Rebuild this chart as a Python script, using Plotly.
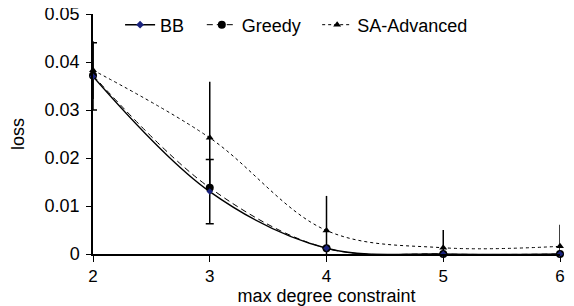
import plotly.graph_objects as go

x_vals = [2, 3, 4, 5, 6]
bb = [0.0370, 0.0130, 0.0012, 0.0, 0.0]
bb_err = [0.0070, 0.0067, 0.0, 0.0, 0.0]
greedy = [0.0372, 0.0138, 0.0012, 0.0, 0.0]
sa = [0.0383, 0.0242, 0.0049, 0.0013, 0.0016]
sa_err = [0.0060, 0.0117, 0.0072, 0.0037, 0.0045]

font = dict(family="Liberation Sans, Arial, sans-serif", size=18, color="black")
tick_font = dict(family="Liberation Sans, Arial, sans-serif", size=17, color="black")

fig = go.Figure()
fig.add_trace(go.Scatter(
    x=x_vals, y=sa, name="SA-Advanced", mode="lines+markers",
    line=dict(color="black", width=1, dash="dot", shape="spline"),
    marker=dict(symbol="triangle-up", size=7, color="black"),
    error_y=dict(type="data", array=sa_err, color="black", thickness=1.5, width=0),
    cliponaxis=False, showlegend=False))
fig.add_trace(go.Scatter(
    x=x_vals, y=greedy, name="Greedy", mode="lines+markers",
    line=dict(color="black", width=1, dash="6px,4px", shape="spline"),
    marker=dict(symbol="circle", size=8, color="black"),
    cliponaxis=False, showlegend=False))
fig.add_trace(go.Scatter(
    x=x_vals, y=bb, name="BB", mode="lines+markers",
    line=dict(color="black", width=1.4, shape="spline"),
    marker=dict(symbol="diamond", size=5, color="#1a237e"),
    error_y=dict(type="data", array=bb_err, color="black", thickness=1.5, width=4),
    cliponaxis=False, showlegend=False))

# legend entries (same styles, no error bars), each in its own legend box
fig.add_trace(go.Scatter(x=[None], y=[None], name="BB", mode="lines+markers",
    line=dict(color="black", width=1.4),
    marker=dict(symbol="diamond", size=6, color="#1a237e"), legend="legend"))
fig.add_trace(go.Scatter(x=[None], y=[None], name="Greedy", mode="lines+markers",
    line=dict(color="black", width=1, dash="6px,4px"),
    marker=dict(symbol="circle", size=8, color="black"), legend="legend2"))
fig.add_trace(go.Scatter(x=[None], y=[None], name="SA-Advanced", mode="lines+markers",
    line=dict(color="black", width=1, dash="dot"),
    marker=dict(symbol="triangle-up", size=7, color="black"), legend="legend3"))

leg_common = dict(orientation="h", xanchor="left", yanchor="middle",
                  yref="container", y=0.943,
                  bgcolor="rgba(0,0,0,0)", font=font)

fig.update_layout(
    width=566, height=298,
    margin=dict(l=85, r=14, t=6, b=52, autoexpand=False),
    paper_bgcolor="white", plot_bgcolor="white",
    font=font,
    legend=dict(x=0.058, **leg_common),
    legend2=dict(x=0.233, **leg_common),
    legend3=dict(x=0.480, **leg_common),
    xaxis=dict(range=[2, 6], tickvals=x_vals, ticktext=[str(v) for v in x_vals],
               showgrid=False, zeroline=False, showline=True, linecolor="black",
               linewidth=1.5, ticks="outside", ticklen=6, tickcolor="black",
               tickfont=tick_font,
               automargin=False, ticklabeloverflow="allow",
               title=dict(text="max degree constraint", standoff=6, font=font)),
    yaxis=dict(range=[0, 0.05], tickvals=[0, 0.01, 0.02, 0.03, 0.04, 0.05],
               ticktext=["0", "0.01", "0.02", "0.03", "0.04", "0.05"],
               showgrid=False, zeroline=False, showline=True, linecolor="black",
               linewidth=1.5, ticks="outside", ticklen=5, tickcolor="black",
               ticklabelstandoff=3, tickfont=font,
               automargin=False, ticklabeloverflow="allow",
               title=dict(text="loss", standoff=20, font=font)),
)

fig.write_html("out.html")
